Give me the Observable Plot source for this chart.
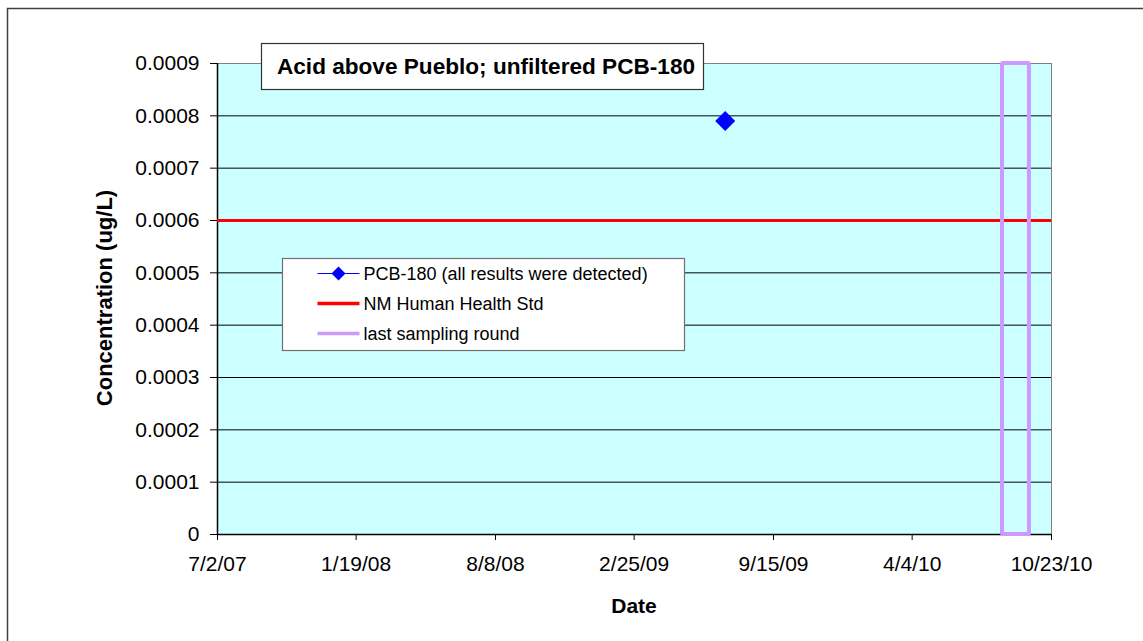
<!DOCTYPE html>
<html>
<head>
<meta charset="utf-8">
<script src="https://cdn.jsdelivr.net/npm/d3@7"></script>
<script src="https://cdn.jsdelivr.net/npm/@observablehq/plot@0.6"></script>
<style>
  html, body { margin: 0; padding: 0; background: white; overflow: hidden; }
  #chart svg { display: block; }
</style>
</head>
<body>
<div id="chart"></div>
<script>
// ---- data ----
const chartTitle = "Acid above Pueblo; unfiltered PCB-180";
const xLabel = "Date";
const yLabel = "Concentration (ug/L)";
const seriesNames = ["PCB-180 (all results were detected)", "NM Human Health Std", "last sampling round"];
const seriesColors = ["blue", "red", "#cc99ff"];
const sampleDates = ["2009-07-07"];
const sampleValues = [0.00079];
const standardValue = [0.0006];
const lastRoundStart = ["2010-08-13"];
const lastRoundEnd = ["2010-09-21"];
const xTickDates = ["2007-07-02", "2008-01-19", "2008-08-08", "2009-02-25", "2009-09-15", "2010-04-04", "2010-10-23"];
const xTickLabels = ["7/2/07", "1/19/08", "8/8/08", "2/25/09", "9/15/09", "4/4/10", "10/23/10"];
const yTicks = [0, 0.0001, 0.0002, 0.0003, 0.0004, 0.0005, 0.0006, 0.0007, 0.0008, 0.0009];
const yTickLabels = ["0", "0.0001", "0.0002", "0.0003", "0.0004", "0.0005", "0.0006", "0.0007", "0.0008", "0.0009"];

// ---- derived tables ----
const parse = s => new Date(s + "T00:00:00Z");
const samples = sampleDates.map((d, i) => ({date: parse(d), value: sampleValues[i]}));
const lastRound = lastRoundStart.map((d, i) => ({start: parse(d), end: parse(lastRoundEnd[i])}));
const xTicks = xTickDates.map(parse);
const xLabelMap = new Map(xTicks.map((d, i) => [+d, xTickLabels[i]]));
const yLabelMap = new Map(yTicks.map((d, i) => [d, yTickLabels[i]]));
const xDomain = [xTicks[0], xTicks[xTicks.length - 1]];
const yDomain = [yTicks[0], yTicks[yTicks.length - 1]];

const FONT = "'Liberation Sans', Arial, Helvetica, sans-serif";

const chart = Plot.plot({
  width: 1143,
  height: 641,
  marginLeft: 217,
  marginRight: 92,
  marginTop: 63,
  marginBottom: 107,
  style: {fontFamily: FONT, fontSize: "21px", color: "black", background: "white"},
  x: {type: "utc", domain: xDomain, axis: null},
  y: {domain: yDomain, axis: null},
  marks: [
    Plot.frame({fill: "#ccffff", stroke: "#808080"}),
    Plot.ruleY(yTicks.filter(d => d > yDomain[0] && d < yDomain[1]), {stroke: "black", strokeWidth: 1}),
    Plot.ruleY([yDomain[0]], {stroke: "black", strokeWidth: 1.5}),
    Plot.ruleX([xDomain[0]], {stroke: "black", strokeWidth: 1.5}),
    Plot.ruleY(standardValue, {stroke: seriesColors[1], strokeWidth: 3}),
    Plot.rect(lastRound, {x1: "start", x2: "end", y1: yDomain[0], y2: yDomain[1], fill: "none", stroke: seriesColors[2], strokeWidth: 4, rx: 1}),
    Plot.dot(samples, {x: "date", y: "value", symbol: "diamond2", r: 9, fill: seriesColors[0], stroke: "none"}),
    Plot.axisX({ticks: xTicks, tickFormat: d => xLabelMap.get(+d), tickSize: 6, tickPadding: 16, fontSize: 21, label: null, stroke: "black"}),
    Plot.axisY({ticks: yTicks, tickFormat: d => yLabelMap.get(d), tickSize: 7, tickPadding: 11, fontSize: 21, label: null, stroke: "black"})
  ]
});

document.getElementById("chart").appendChild(chart);

// ---- annotations (titles, legend, outer border) ----
const svg = d3.select(chart);

// outer chart border
svg.append("rect")
  .attr("x", 7.5).attr("y", 8.5).attr("width", 1200).attr("height", 700)
  .attr("fill", "none").attr("stroke", "#404040").attr("stroke-width", 1.5);

// y axis title
svg.append("text")
  .attr("transform", "translate(112,298) rotate(-90)")
  .attr("text-anchor", "middle")
  .attr("font-family", FONT).attr("font-weight", "bold").attr("font-size", 22)
  .attr("fill", "black")
  .text(yLabel);

// x axis title
svg.append("text")
  .attr("x", 634).attr("y", 613)
  .attr("text-anchor", "middle")
  .attr("font-family", FONT).attr("font-weight", "bold").attr("font-size", 21)
  .attr("fill", "black")
  .text(xLabel);

// title box
svg.append("rect")
  .attr("x", 261.5).attr("y", 43.5).attr("width", 442).attr("height", 46)
  .attr("fill", "white").attr("stroke", "#333").attr("stroke-width", 1.2);
svg.append("text")
  .attr("x", 486).attr("y", 74)
  .attr("text-anchor", "middle")
  .attr("font-family", FONT).attr("font-weight", "bold").attr("font-size", 22.6)
  .attr("fill", "black")
  .text(chartTitle);

// legend box
const lg = svg.append("g").attr("transform", "translate(282.5,258.5)");
lg.append("rect").attr("width", 402).attr("height", 92)
  .attr("fill", "white").attr("stroke", "#707070").attr("stroke-width", 1.2);
seriesNames.forEach((name, i) => {
  const cy = 15 + i * 30;
  const row = lg.append("g").attr("transform", `translate(0,${cy})`);
  row.append("line").attr("x1", 35).attr("x2", 77).attr("y1", 0).attr("y2", 0)
    .attr("stroke", seriesColors[i]).attr("stroke-width", i === 0 ? 1.2 : 3.5);
  if (i === 0) {
    row.append("path").attr("d", "M56,-7L63,0L56,7L49,0Z").attr("fill", seriesColors[0]);
  }
  row.append("text").attr("x", 81).attr("y", 0).attr("dy", "0.35em")
    .attr("text-anchor", "start")
    .attr("font-family", FONT).attr("font-size", 18).attr("fill", "black")
    .text(name);
});
</script>
</body>
</html>
